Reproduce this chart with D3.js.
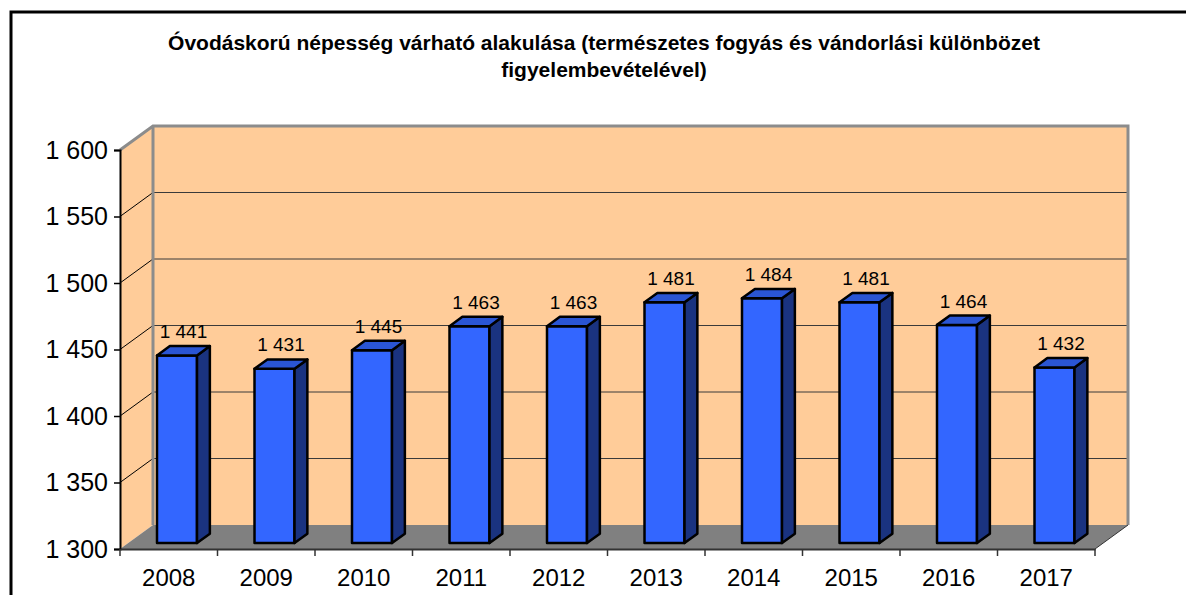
<!DOCTYPE html>
<html>
<head>
<meta charset="utf-8">
<script src="https://cdn.jsdelivr.net/npm/d3@7"></script>
<style>
  html, body { margin: 0; padding: 0; background: #fff; }
  svg { display: block; font-family: "Liberation Sans", Arial, sans-serif; }
</style>
</head>
<body>
<div id="chart"></div>
<script>
const titleLines = [
  'Óvodáskorú népesség várható alakulása (természetes fogyás és vándorlási különbözet',
  'figyelembevételével)'
];
const years = ['2008', '2009', '2010', '2011', '2012', '2013', '2014', '2015', '2016', '2017'];
const population = [1441, 1431, 1445, 1463, 1463, 1481, 1484, 1481, 1464, 1432];
const yTicks = [1300, 1350, 1400, 1450, 1500, 1550, 1600];

(function () {
const width = 1186;
const height = 595;
const fmt = v => d3.format(',')(v).replace(/,/g, ' ');

// plot area (front plane) and 3d depth offset
const pLeft = 120, pRight = 1095, pTop = 150, pBottom = 549;
const depthX = 33, depthY = 24;

const svg = d3.select('#chart').append('svg')
  .attr('width', width)
  .attr('height', height);

// outer frame (only left and top edges are visible)
svg.append('path')
  .attr('d', `M11,${height + 5}V12H${width + 5}`)
  .attr('fill', 'none')
  .attr('stroke', '#000')
  .attr('stroke-width', 3);

// title
svg.append('g')
  .selectAll('text')
  .data(titleLines)
  .enter()
  .append('text')
  .attr('x', 604)
  .attr('y', (d, i) => 50 + i * 27)
  .attr('text-anchor', 'middle')
  .attr('font-size', 21)
  .attr('font-weight', 'bold')
  .text(d => d);

const x = d3.scaleBand().domain(years).range([pLeft, pRight]);
const y = d3.scaleLinear().domain([1300, 1600]).range([pBottom, pTop]);

// back wall
svg.append('rect')
  .attr('x', pLeft + depthX)
  .attr('y', y(1600) - depthY)
  .attr('width', pRight - pLeft)
  .attr('height', y(1300) - y(1600))
  .attr('fill', '#ffcc99');

// left side wall
svg.append('polygon')
  .attr('points', [
    [pLeft, y(1600)], [pLeft + depthX, y(1600) - depthY],
    [pLeft + depthX, y(1300) - depthY], [pLeft, y(1300)]
  ].join(' '))
  .attr('fill', '#ffcc99');

// gridlines
const grid = yTicks.filter(v => v > 1300 && v < 1600);
svg.append('g')
  .selectAll('line')
  .data(grid)
  .enter()
  .append('line')
  .attr('x1', pLeft + depthX)
  .attr('x2', pRight + depthX)
  .attr('y1', d => y(d) - depthY)
  .attr('y2', d => y(d) - depthY)
  .attr('stroke', '#3a3a3a')
  .attr('stroke-width', 1);

svg.append('g')
  .selectAll('line')
  .data(grid)
  .enter()
  .append('line')
  .attr('x1', pLeft)
  .attr('x2', pLeft + depthX)
  .attr('y1', d => y(d))
  .attr('y2', d => y(d) - depthY)
  .attr('stroke', '#000')
  .attr('stroke-width', 1);

// wall borders
svg.append('path')
  .attr('d', `M${pLeft},${y(1600)}L${pLeft + depthX},${y(1600) - depthY}H${pRight + depthX}V${y(1300) - depthY}` +
    `M${pLeft + depthX},${y(1600) - depthY}V${y(1300) - depthY}`)
  .attr('fill', 'none')
  .attr('stroke', '#8c8c8c')
  .attr('stroke-width', 3);

// floor
svg.append('polygon')
  .attr('points', [
    [pLeft, y(1300)], [pRight, y(1300)],
    [pRight + depthX, y(1300) - depthY], [pLeft + depthX, y(1300) - depthY]
  ].join(' '))
  .attr('fill', '#808080');

svg.append('line')
  .attr('x1', pRight).attr('y1', y(1300))
  .attr('x2', pRight + depthX).attr('y2', y(1300) - depthY)
  .attr('stroke', '#333')
  .attr('stroke-width', 1);

// bars
const barW = 40;
const f0 = 0.25, f1 = 0.64;
const ox = depthX * f0, oy = depthY * f0;
const dx = depthX * (f1 - f0), dy = depthY * (f1 - f0);

const bars = svg.append('g')
  .selectAll('g.bar')
  .data(years.map((yr, i) => ({ year: yr, value: population[i] })))
  .enter()
  .append('g')
  .attr('class', 'bar')
  .attr('stroke', '#000')
  .attr('stroke-width', 2.5)
  .attr('stroke-linejoin', 'round');

const xl = d => x(d.year) + (x.bandwidth() - barW) / 2 + ox;
const yt = d => y(d.value) - oy;
const yb = y(1300) - oy;

bars.append('rect')
  .attr('x', xl)
  .attr('y', yt)
  .attr('width', barW)
  .attr('height', d => yb - yt(d))
  .attr('fill', '#3366ff');

bars.append('polygon')
  .attr('points', d => {
    const r = xl(d) + barW;
    return [[r, yt(d)], [r + dx, yt(d) - dy], [r + dx, yb - dy], [r, yb]].join(' ');
  })
  .attr('fill', '#1a3380');

bars.append('polygon')
  .attr('points', d => {
    const l = xl(d), r = l + barW;
    return [[l, yt(d)], [r, yt(d)], [r + dx, yt(d) - dy], [l + dx, yt(d) - dy]].join(' ');
  })
  .attr('fill', '#2a55d4');

// data labels
bars.append('text')
  .attr('stroke', 'none')
  .attr('x', d => xl(d) + (barW + dx) / 2)
  .attr('y', d => yt(d) - dy - 8)
  .attr('text-anchor', 'middle')
  .attr('font-size', 19)
  .attr('fill', '#000')
  .text(d => fmt(d.value));

// y axis
const yAxis = svg.append('g')
  .attr('transform', `translate(${pLeft},0)`)
  .call(d3.axisLeft(y).tickValues(yTicks).tickSize(6).tickPadding(6).tickFormat(fmt));
yAxis.select('.domain').attr('stroke', '#000').attr('stroke-width', 2);
yAxis.selectAll('.tick line').attr('stroke', '#000').attr('stroke-width', 1.5);
yAxis.selectAll('.tick text')
  .attr('font-size', 25)
  .attr('font-family', '"Liberation Sans", Arial, sans-serif')
  .attr('fill', '#000');

// x axis
const xAxis = svg.append('g')
  .attr('transform', `translate(0,${pBottom})`)
  .call(d3.axisBottom(x).tickSize(0).tickPadding(20));
xAxis.select('.domain').attr('stroke', '#333').attr('stroke-width', 2);
xAxis.selectAll('.tick text')
  .attr('font-size', 24)
  .attr('font-family', '"Liberation Sans", Arial, sans-serif')
  .attr('fill', '#000');

// category boundary ticks
svg.append('g')
  .selectAll('line')
  .data(years.concat(['end']))
  .enter()
  .append('line')
  .attr('x1', d => d === 'end' ? pRight : x(d))
  .attr('x2', d => d === 'end' ? pRight : x(d))
  .attr('y1', pBottom)
  .attr('y2', pBottom + 7)
  .attr('stroke', '#333')
  .attr('stroke-width', 1.5);
})();
</script>
</body>
</html>
